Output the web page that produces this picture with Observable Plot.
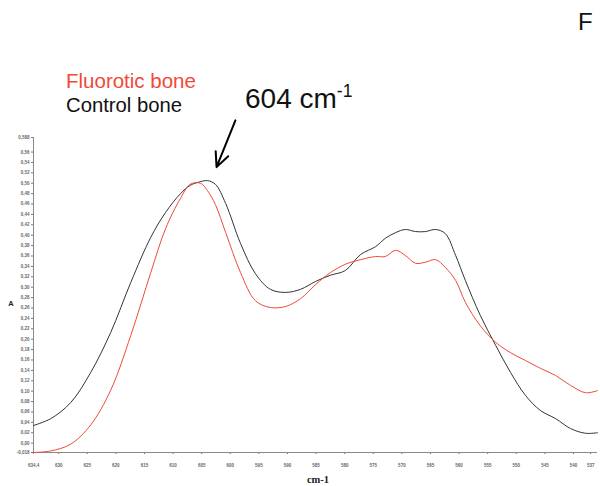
<!DOCTYPE html>
<html>
<head>
<meta charset="utf-8">
<script src="https://cdn.jsdelivr.net/npm/d3@7"></script>
<script src="https://cdn.jsdelivr.net/npm/@observablehq/plot@0.6"></script>
<style>
  html, body { margin: 0; padding: 0; background: #fff; }
  #chart svg { display: block; }
</style>
</head>
<body>
<div id="chart"></div>
<script>
// Wavenumber (cm-1) sample positions
const wavenumber = [634.4, 631.4, 627.9, 624.4, 620.9, 617.4, 613.9, 611.3, 608.7, 607.0, 605.2, 604.0, 602.6, 600.8, 598.2, 595.6, 593.0, 590.3, 587.7, 585.1, 582.5, 579.9, 577.2, 574.6, 572.9, 571.1, 569.4, 567.6, 565.9, 564.1, 562.4, 560.6, 558.9, 556.3, 553.6, 551.0, 548.4, 545.8, 543.1, 540.5, 537.9, 535.8];
// Absorbance, control bone (black)
const controlBone = [0.034, 0.047, 0.078, 0.136, 0.213, 0.309, 0.396, 0.444, 0.480, 0.496, 0.503, 0.505, 0.498, 0.461, 0.384, 0.326, 0.296, 0.290, 0.296, 0.311, 0.323, 0.332, 0.363, 0.378, 0.394, 0.405, 0.411, 0.407, 0.407, 0.411, 0.403, 0.361, 0.313, 0.246, 0.188, 0.136, 0.092, 0.063, 0.047, 0.028, 0.019, 0.020];
// Absorbance, fluorotic bone (red)
const fluoroticBone = [-0.018, -0.015, -0.002, 0.035, 0.102, 0.207, 0.328, 0.413, 0.471, 0.498, 0.500, 0.486, 0.459, 0.405, 0.328, 0.274, 0.261, 0.263, 0.278, 0.305, 0.328, 0.344, 0.353, 0.359, 0.359, 0.371, 0.361, 0.346, 0.348, 0.353, 0.338, 0.313, 0.271, 0.226, 0.194, 0.174, 0.159, 0.144, 0.130, 0.111, 0.097, 0.101];

const xTicks = [634.4, 630, 625, 620, 615, 610, 605, 600, 595, 590, 585, 580, 575, 570, 565, 560, 555, 550, 545, 540, 537];
const yTicks = [-0.018, 0, 0.02, 0.04, 0.06, 0.08, 0.10, 0.12, 0.14, 0.16, 0.18, 0.20, 0.22, 0.24, 0.26, 0.28, 0.30, 0.32, 0.34, 0.36, 0.38, 0.40, 0.42, 0.44, 0.46, 0.48, 0.50, 0.52, 0.54, 0.56, 0.588];
const xDomain = [634.4, 535.8];
const yDomain = [-0.018, 0.588];

// arrow annotation pointing at the 604 cm-1 band (data coordinates)
const arrowData = [{x1: 599.1, y1: 0.621, x2: 602.4, y2: 0.531}];

const control = wavenumber.map((w, i) => ({w, a: controlBone[i]}));
const fluoro = wavenumber.map((w, i) => ({w, a: fluoroticBone[i]}));

const fmtX = d => d === 634.4 ? "634,4" : String(d);
const fmtY = d => (d === -0.018 || d === 0.588) ? d.toFixed(3).replace(".", ",") : d.toFixed(2).replace(".", ",");

const RED = "#f2483a";

const chart = Plot.plot({
  width: 600,
  height: 486,
  marginTop: 137,
  marginBottom: 34,
  marginLeft: 33,
  marginRight: 3,
  style: {fontFamily: "Liberation Sans, Arial, sans-serif", background: "#fff", overflow: "visible"},
  x: {domain: xDomain, label: null},
  y: {domain: yDomain, label: null},
  marks: [
    Plot.axisX({ticks: xTicks, tickFormat: fmtX, tickSize: 2, tickPadding: 9, fontSize: 4.5, fontWeight: "bold", fill: "#666", stroke: "#777", label: null}),
    Plot.axisY({ticks: yTicks, tickFormat: fmtY, tickSize: 2, tickPadding: 2, fontSize: 4.5, fontWeight: "bold", fill: "#666", stroke: "#777", label: null}),
    Plot.ruleY([yDomain[0]], {stroke: "#888", strokeWidth: 1}),
    Plot.ruleX([xDomain[0]], {stroke: "#888", strokeWidth: 1}),
    Plot.line(control, {x: "w", y: "a", stroke: "#333", strokeWidth: 1, curve: "catmull-rom"}),
    Plot.line(fluoro, {x: "w", y: "a", stroke: RED, strokeWidth: 1, curve: "catmull-rom"}),
    Plot.arrow(arrowData, {x1: "x1", y1: "y1", x2: "x2", y2: "y2", stroke: "#000", strokeWidth: 2, headLength: 12, headAngle: 50, clip: false})
  ]
});

document.getElementById("chart").appendChild(chart);

const svg = d3.select(chart);
const ff = "Liberation Sans, Arial, Helvetica, sans-serif";
const g = svg.append("g").attr("text-anchor", "start");
g.append("text").attr("x", 66).attr("y", 88).attr("fill", RED)
  .attr("font-family", ff).attr("font-size", 20.5).text("Fluorotic bone");
g.append("text").attr("x", 66).attr("y", 112).attr("fill", "#111")
  .attr("font-family", ff).attr("font-size", 20.3).text("Control bone");
const t = g.append("text").attr("x", 245).attr("y", 108).attr("fill", "#111")
  .attr("font-family", ff).attr("font-size", 28);
t.append("tspan").text("604 cm");
t.append("tspan").attr("font-size", 17.5).attr("dy", -11).text("-1");
g.append("text").attr("x", 578).attr("y", 30).attr("fill", "#111")
  .attr("font-family", ff).attr("font-size", 24).text("F");
svg.append("text").attr("x", 11).attr("y", 306).attr("fill", "#222")
  .attr("font-family", ff).attr("font-size", 7.5).attr("font-weight", "bold")
  .attr("text-anchor", "middle").text("A");
svg.append("text").attr("x", 318).attr("y", 483).attr("fill", "#222")
  .attr("font-family", "Liberation Serif, Times New Roman, serif").attr("font-size", 10.5).attr("font-weight", "bold")
  .attr("text-anchor", "middle").text("cm-1");
</script>
</body>
</html>
